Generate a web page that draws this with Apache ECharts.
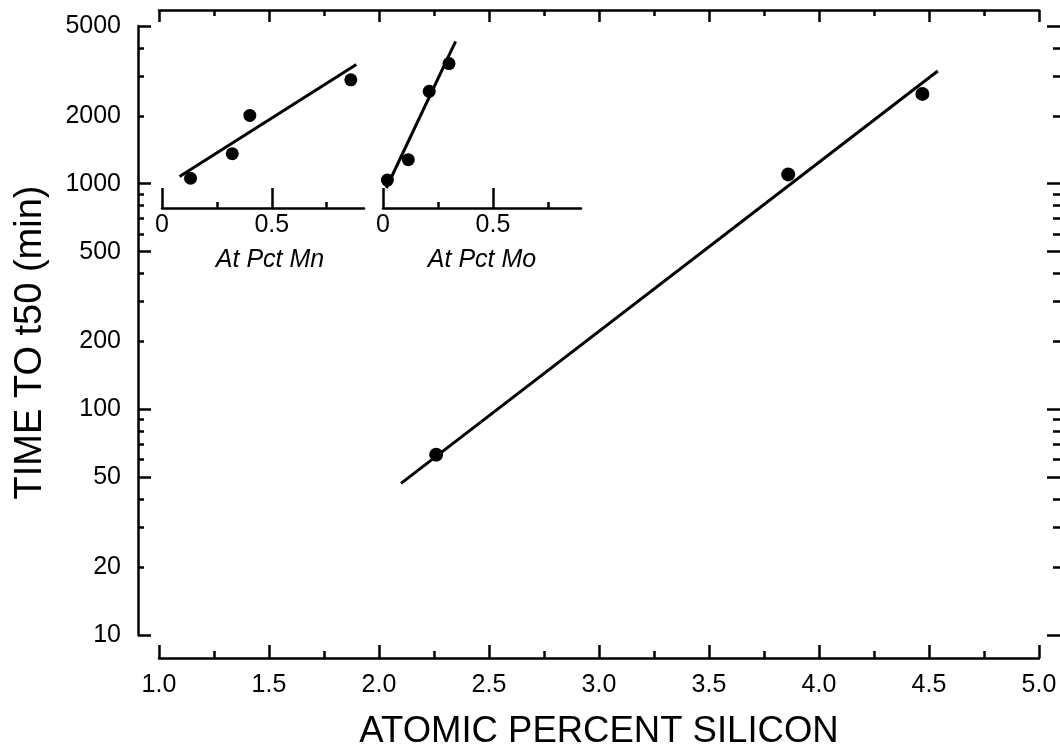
<!DOCTYPE html>
<html>
<head>
<meta charset="utf-8">
<script src="https://cdn.jsdelivr.net/npm/echarts@6/dist/echarts.min.js"></script>
<style>
html, body { margin: 0; padding: 0; background: #fff; }
#chart { width: 1060px; height: 756px; }
</style>
</head>
<body>
<div id="chart"></div>
<script>
// main plot: time to t50 vs atomic % silicon
const siX = [2.26, 3.86, 4.47]
const siT = [63, 1100, 2500]
const siFitX = [2.1, 4.54]
const siFitT = [47, 3160]

// inset: manganese
const mnX = [0.13, 0.32, 0.40, 0.86]
const mnT = [1050, 1350, 2000, 2880]
const mnFitX = [0.08, 0.885]
const mnFitT = [1070, 3370]

// inset: molybdenum
const moX = [0.02, 0.115, 0.21, 0.30]
const moT = [1030, 1270, 2560, 3400]
const moFitX = [0.015, 0.33]
const moFitT = [950, 4270]

// tick labels / tick positions
const yLabelTicks = [10, 20, 50, 100, 200, 500, 1000, 2000, 5000]
const yMajorTicks = [10, 50, 100, 500, 1000, 5000]
const yMinorTicks = [20, 30, 40, 60, 70, 80, 90, 200, 300, 400, 600, 700, 800, 900, 2000, 3000, 4000]
const insetMajor = [0, 0.5]
const insetMinor = [0.25, 0.75]

const INK = '#000'
const FONT = '"Liberation Sans", Arial, sans-serif'
const zip = (xs, ys) => xs.map((x, i) => [x, ys[i]])

const line = { lineStyle: { color: INK, width: 2.5 } }
const noSplit = { show: false }
const dot = { color: INK, opacity: 1 }

// a value axis that only draws ticks (no line, no labels)
const tickOnly = (extra, ticks, len) => Object.assign({
  axisLine: { show: false },
  axisLabel: { show: false },
  splitLine: noSplit,
  axisTick: { inside: true, length: len, customValues: ticks, lineStyle: { color: INK, width: 2.5 } }
}, extra)

const chart = echarts.init(document.getElementById('chart'))

chart.setOption({
  animation: false,
  backgroundColor: '#fff',
  grid: [
    { left: 159, right: 21, top: 26, bottom: 121 },
    { left: 162, top: 26, width: 202, height: 157 },
    { left: 383, top: 26, width: 198, height: 157 }
  ],
  xAxis: [
    {
      gridIndex: 0, type: 'value', min: 1, max: 5, interval: 0.5,
      position: 'bottom', offset: 23,
      axisLine: line,
      axisTick: { inside: true, length: 13, lineStyle: { color: INK, width: 2.5 } },
      minorTick: { show: true, splitNumber: 2, length: 7, lineStyle: { color: INK, width: 2.5 } },
      splitLine: noSplit,
      axisLabel: { color: INK, fontSize: 25, fontFamily: FONT, margin: 15, formatter: v => v.toFixed(1) },
      name: 'ATOMIC PERCENT SILICON', nameLocation: 'middle', nameGap: 55,
      nameTextStyle: { color: INK, fontSize: 36.5, fontFamily: FONT }
    },
    {
      gridIndex: 0, type: 'value', min: 1, max: 5, interval: 0.5,
      position: 'top', offset: 16,
      axisLine: line,
      axisTick: { inside: true, length: 12, lineStyle: { color: INK, width: 2.5 } },
      minorTick: { show: true, splitNumber: 2, length: 6, lineStyle: { color: INK, width: 2.5 } },
      splitLine: noSplit,
      axisLabel: { show: false }
    },
    {
      gridIndex: 1, type: 'value', min: 0, max: 0.92, position: 'bottom', offset: 25,
      axisLine: line,
      axisTick: { inside: true, length: 20, customValues: insetMajor, lineStyle: { color: INK, width: 2.5 } },
      splitLine: noSplit,
      axisLabel: { color: INK, fontSize: 25, fontFamily: FONT, margin: 5, customValues: insetMajor },
      name: 'At Pct Mn', nameLocation: 'middle', nameGap: 40,
      nameTextStyle: { color: INK, fontSize: 25, fontStyle: 'italic', fontFamily: FONT, padding: [0, 0, 0, 14] }
    },
    tickOnly({ gridIndex: 1, type: 'value', min: 0, max: 0.92, position: 'bottom', offset: 25 }, insetMinor, 6),
    {
      gridIndex: 2, type: 'value', min: 0, max: 0.9, position: 'bottom', offset: 25,
      axisLine: line,
      axisTick: { inside: true, length: 20, customValues: insetMajor, lineStyle: { color: INK, width: 2.5 } },
      splitLine: noSplit,
      axisLabel: { color: INK, fontSize: 25, fontFamily: FONT, margin: 5, customValues: insetMajor },
      name: 'At Pct Mo', nameLocation: 'middle', nameGap: 40,
      nameTextStyle: { color: INK, fontSize: 25, fontStyle: 'italic', fontFamily: FONT }
    },
    tickOnly({ gridIndex: 2, type: 'value', min: 0, max: 0.9, position: 'bottom', offset: 25 }, insetMinor, 6)
  ],
  yAxis: [
    {
      gridIndex: 0, type: 'log', logBase: 10, min: 10, max: 5000,
      position: 'left', offset: 21,
      axisLine: line,
      axisTick: { inside: true, length: 13, customValues: yMajorTicks, lineStyle: { color: INK, width: 2.5 } },
      splitLine: noSplit,
      axisLabel: { color: INK, fontSize: 25, fontFamily: FONT, margin: 17, customValues: yLabelTicks, formatter: v => String(v) },
      name: 'TIME TO t50 (min)', nameLocation: 'middle', nameGap: 88,
      nameTextStyle: { color: INK, fontSize: 38, fontFamily: FONT, padding: [0, 24, 0, 0] }
    },
    tickOnly({ gridIndex: 0, type: 'log', logBase: 10, min: 10, max: 5000, position: 'left', offset: 21 }, yMinorTicks, 6),
    {
      gridIndex: 0, type: 'log', logBase: 10, min: 10, max: 5000,
      position: 'right', offset: 22,
      axisLine: line,
      axisTick: { inside: true, length: 14, customValues: yMajorTicks, lineStyle: { color: INK, width: 2.5 } },
      splitLine: noSplit,
      axisLabel: { show: false }
    },
    tickOnly({ gridIndex: 0, type: 'log', logBase: 10, min: 10, max: 5000, position: 'right', offset: 22 }, yMinorTicks, 8),
    { gridIndex: 1, type: 'log', logBase: 10, min: 1000, max: 5000, show: false },
    { gridIndex: 2, type: 'log', logBase: 10, min: 1000, max: 5000, show: false }
  ],
  series: [
    {
      type: 'line', xAxisIndex: 0, yAxisIndex: 0, data: zip(siFitX, siFitT),
      showSymbol: false, lineStyle: { color: INK, width: 3 }, silent: true
    },
    {
      type: 'scatter', xAxisIndex: 0, yAxisIndex: 0, data: zip(siX, siT),
      symbolSize: 14, itemStyle: dot
    },
    {
      type: 'line', xAxisIndex: 2, yAxisIndex: 4, data: zip(mnFitX, mnFitT), clip: false,
      showSymbol: false, lineStyle: { color: INK, width: 3 }, silent: true
    },
    {
      type: 'scatter', xAxisIndex: 2, yAxisIndex: 4, data: zip(mnX, mnT), clip: false,
      symbolSize: 13, itemStyle: dot
    },
    {
      type: 'line', xAxisIndex: 4, yAxisIndex: 5, data: zip(moFitX, moFitT), clip: false,
      showSymbol: false, lineStyle: { color: INK, width: 3 }, silent: true
    },
    {
      type: 'scatter', xAxisIndex: 4, yAxisIndex: 5, data: zip(moX, moT), clip: false,
      symbolSize: 13, itemStyle: dot
    }
  ]
})
</script>
</body>
</html>
